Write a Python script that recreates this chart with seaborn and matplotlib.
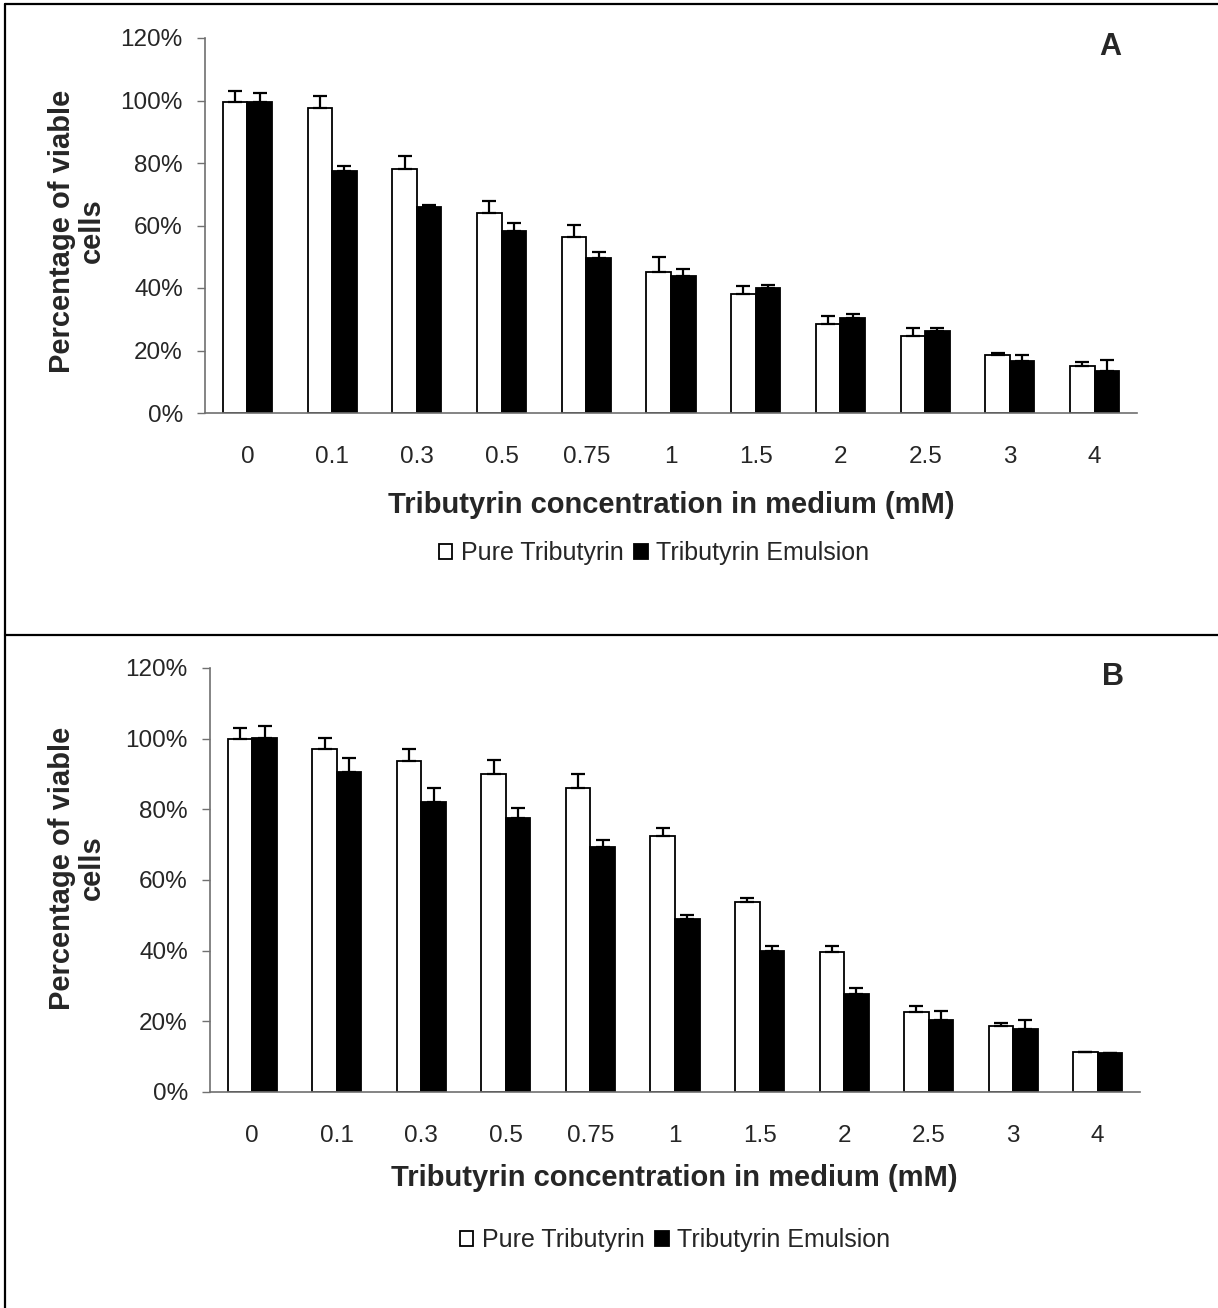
import numpy as np
import pandas as pd
import seaborn as sns
import matplotlib.pyplot as plt
from matplotlib.lines import Line2D
from matplotlib.ticker import PercentFormatter, FixedLocator

# concentrations (mM) and the two formulations
conc_labels = ['0', '0.1', '0.3', '0.5', '0.75', '1', '1.5', '2', '2.5', '3', '4']
forms = ['Pure Tributyrin', 'Tributyrin Emulsion']

# panel A
a_pure = [99.4, 97.5, 78.0, 63.9, 56.3, 45.0, 38.0, 28.4, 24.6, 18.5, 15.2]
a_pure_err = [3.8, 3.9, 4.3, 3.8, 3.9, 5.0, 2.5, 2.6, 2.7, 0.6, 1.2]
a_emul = [99.5, 77.3, 65.9, 58.3, 49.5, 43.8, 39.9, 30.5, 26.1, 16.6, 13.4]
a_emul_err = [3.0, 1.8, 0.5, 2.5, 1.9, 2.4, 1.2, 1.1, 1.2, 1.9, 3.6]

# panel B
b_pure = [100.0, 97.2, 93.8, 89.9, 86.0, 72.4, 53.9, 39.5, 22.7, 18.8, 11.3]
b_pure_err = [3.0, 3.0, 3.4, 4.0, 4.0, 2.2, 1.1, 1.7, 1.7, 0.6, 0.0]
b_emul = [100.1, 90.6, 82.1, 77.6, 69.2, 49.1, 40.0, 27.7, 20.5, 17.7, 10.9]
b_emul_err = [3.5, 3.8, 3.9, 2.7, 2.1, 1.0, 1.4, 1.7, 2.3, 2.7, 0.0]

sns.set_style('white')
plt.rcParams['font.family'] = ['Liberation Sans', 'DejaVu Sans']

W, H = 1218, 1308
fig = plt.figure(figsize=(W / 100, H / 100), dpi=100)


def px(x0, y0, x1, y1):
    # pixel box -> figure fraction rect
    return [x0 / W, 1 - y1 / H, (x1 - x0) / W, (y1 - y0) / H]


def panel(rect, pure, pure_err, emul, emul_err, letter, letter_xy,
          xlab_xy, ylab_xy, leg_xy):
    ax = fig.add_axes(rect)
    df = pd.DataFrame({
        'conc': conc_labels * 2,
        'value': pure + emul,
        'form': [forms[0]] * len(pure) + [forms[1]] * len(emul),
    })
    sns.barplot(data=df, x='conc', y='value', hue='form', order=conc_labels,
                hue_order=forms, palette=['white', 'black'], saturation=1,
                edgecolor='black', linewidth=1.3, width=0.58, errorbar=None,
                legend=False, ax=ax)

    # plus-only error bars
    for cont, err in zip(ax.containers, [pure_err, emul_err]):
        xs = [b.get_x() + b.get_width() / 2 for b in cont]
        hs = [b.get_height() for b in cont]
        ax.errorbar(xs, hs, yerr=[np.zeros(len(err)), err], fmt='none',
                    ecolor='black', elinewidth=1.6, capsize=5.2, capthick=1.6,
                    zorder=3)

    ax.set_xlim(-0.5, len(conc_labels) - 0.5)
    ax.set_ylim(0, 120)
    ax.set_yticks(np.arange(0, 121, 20))
    ax.yaxis.set_major_formatter(PercentFormatter(decimals=0))
    ax.xaxis.set_minor_locator(FixedLocator(np.arange(-0.5, len(conc_labels), 1)))
    ax.tick_params(axis='x', which='major', length=0, pad=24, labelsize=17.5)
    ax.tick_params(axis='x', which='minor', length=6, width=1, color='#707070',
                   direction='out')
    ax.tick_params(axis='y', length=6, width=1, color='#707070', direction='out',
                   pad=10, labelsize=17.5, left=True)
    sns.despine(ax=ax)
    for s in ['left', 'bottom']:
        ax.spines[s].set_color('#707070')
        ax.spines[s].set_linewidth(1.2)
    ax.set_xlabel('')
    ax.set_ylabel('')

    fig.text(xlab_xy[0] / W, 1 - xlab_xy[1] / H,
             'Tributyrin concentration in medium (mM)', ha='center', va='center',
             fontsize=21, fontweight='bold')
    fig.text(ylab_xy[0] / W, 1 - ylab_xy[1] / H, 'Percentage of viable\ncells',
             ha='center', va='center', rotation=90, multialignment='center',
             fontsize=21, fontweight='bold', linespacing=1.05)
    fig.text(letter_xy[0] / W, 1 - letter_xy[1] / H, letter, ha='center',
             va='center', fontsize=22, fontweight='bold')
    fig.legend(handles=list(ax.containers[:2]), labels=forms, loc='center',
               bbox_to_anchor=(leg_xy[0] / W, 1 - leg_xy[1] / H), ncol=2,
               frameon=False, fontsize=18, handlelength=0.55, handleheight=0.55,
               handletextpad=0.35, columnspacing=0.4)
    return ax


panel(px(205, 38, 1137, 413), a_pure, a_pure_err, a_emul, a_emul_err,
      'A', (1110, 47), (671, 505), (77, 231), (654, 553))
panel(px(210, 668, 1140, 1092), b_pure, b_pure_err, b_emul, b_emul_err,
      'B', (1113, 677), (674, 1178), (77, 868), (675, 1240))

# outer frame of the two-panel figure
lw = 1.6
fig.add_artist(Line2D([5 / W, 1], [1 - 4 / H, 1 - 4 / H], color='black', lw=lw))
fig.add_artist(Line2D([5 / W, 5 / W], [1 - 4 / H, 0], color='black', lw=lw))
fig.add_artist(Line2D([5 / W, 1], [1 - 635 / H, 1 - 635 / H], color='black', lw=lw))

fig.savefig('out.png', dpi=100, facecolor='white')
